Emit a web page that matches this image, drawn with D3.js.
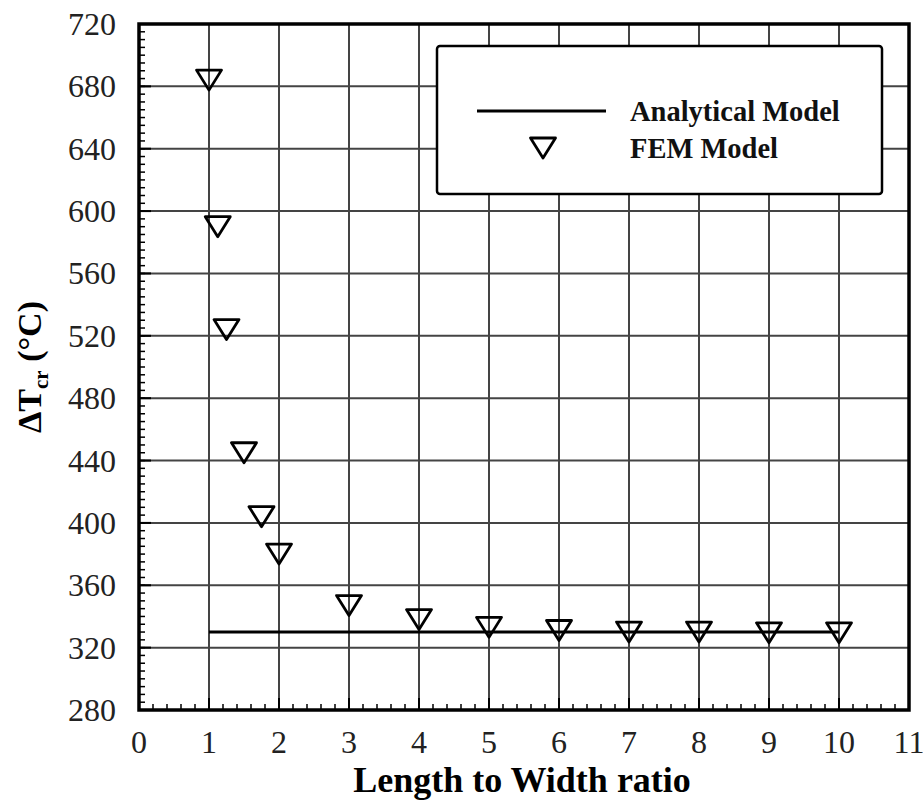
<!DOCTYPE html>
<html><head><meta charset="utf-8">
<script src="https://cdn.jsdelivr.net/npm/d3@7"></script>
<style>body{margin:0;background:#fff}svg{display:block}</style>
</head><body>
<svg id="c" width="923" height="802"></svg>
<script>
const xTicks = [0,1,2,3,4,5,6,7,8,9,10,11];
const yTicks = [280,320,360,400,440,480,520,560,600,640,680,720];
const femX = [1,1.125,1.25,1.5,1.75,2,3,4,5,6,7,8,9,10];
const femY = [684,590,524,445,404,380,347,338,333,331,330,330,329.5,329.5];
const anaX = [1,10];
const anaY = [330,330];
const legendLabels = ["Analytical Model","FEM Model"];

const svg = d3.select("#c");
const L=139,R=909,T=24,B=710;
const x = d3.scaleLinear().domain([0,11]).range([L,R]);
const y = d3.scaleLinear().domain([280,720]).range([B,T]);
const font = "'Liberation Serif','Times New Roman',serif";

// grid
const g = svg.append("g");
g.selectAll("line.vx").data(xTicks.slice(1,-1)).enter().append("line")
 .attr("x1",d=>x(d)).attr("x2",d=>x(d)).attr("y1",T).attr("y2",B)
 .attr("stroke","#444").attr("stroke-width",2);
g.selectAll("line.hy").data(yTicks.slice(1,-1)).enter().append("line")
 .attr("y1",d=>y(d)).attr("y2",d=>y(d)).attr("x1",L).attr("x2",R)
 .attr("stroke","#444").attr("stroke-width",2);

// minor ticks
const xMinor = d3.range(0,11.001,0.2);
const yMinor = d3.range(280,720.001,5);
g.selectAll("line.mx").data(xMinor).enter().append("line")
 .attr("x1",d=>x(d)).attr("x2",d=>x(d)).attr("y1",B).attr("y2",B-6)
 .attr("stroke","#000").attr("stroke-width",1.5);
g.selectAll("line.my").data(yMinor).enter().append("line")
 .attr("y1",d=>y(d)).attr("y2",d=>y(d)).attr("x1",L).attr("x2",L+6)
 .attr("stroke","#000").attr("stroke-width",1.5);
g.selectAll("line.Mx").data(xTicks).enter().append("line")
 .attr("x1",d=>x(d)).attr("x2",d=>x(d)).attr("y1",B).attr("y2",B-12)
 .attr("stroke","#000").attr("stroke-width",2);
g.selectAll("line.My").data(yTicks).enter().append("line")
 .attr("y1",d=>y(d)).attr("y2",d=>y(d)).attr("x1",L).attr("x2",L+12)
 .attr("stroke","#000").attr("stroke-width",2);

// frame
svg.append("rect").attr("x",L).attr("y",T).attr("width",R-L).attr("height",B-T)
 .attr("fill","none").attr("stroke","#000").attr("stroke-width",3.5);

// tick labels
svg.selectAll("text.xt").data(xTicks).enter().append("text")
 .attr("x",d=>x(d)).attr("y",753).attr("text-anchor","middle")
 .attr("font-family",font).attr("font-size",32).attr("fill","#222").text(d=>d);
svg.selectAll("text.yt").data(yTicks).enter().append("text")
 .attr("x",116).attr("y",d=>y(d)+11).attr("text-anchor","end")
 .attr("font-family",font).attr("font-size",32).attr("fill","#222").text(d=>d);

// axis titles
svg.append("text").attr("x",(L+R)/2 - 2).attr("y",792).attr("text-anchor","middle")
 .attr("font-family",font).attr("font-size",36).attr("font-weight","bold").text("Length to Width ratio");
const yt = svg.append("text").attr("transform",`translate(41,${(T+B)/2}) rotate(-90)`)
 .attr("text-anchor","middle").attr("font-family",font).attr("font-size",34).attr("font-weight","bold");
yt.append("tspan").text("ΔT");
yt.append("tspan").attr("font-size",21).attr("dy",7).text("cr");
yt.append("tspan").attr("dy",-7).text(" (°C)");

// analytical line
const line = d3.line().x(d=>x(d[0])).y(d=>y(d[1]));
svg.append("path").datum(anaX.map((v,i)=>[v,anaY[i]])).attr("d",line)
 .attr("fill","none").attr("stroke","#000").attr("stroke-width",3);

// markers
function tri(cx,cy){const w=12.5,h=10;return `M${cx-w},${cy-h}L${cx+w},${cy-h}L${cx},${cy+h}Z`;}
svg.selectAll("path.m").data(femX.map((v,i)=>[v,femY[i]])).enter().append("path")
 .attr("d",d=>tri(x(d[0]),y(d[1]))).attr("fill","none").attr("stroke","#000").attr("stroke-width",2.8)
 .attr("stroke-linejoin","round");

// legend
svg.append("rect").attr("x",437).attr("y",46).attr("width",445).attr("height",148).attr("rx",3)
 .attr("fill","#fff").attr("stroke","#000").attr("stroke-width",2.5);
svg.append("line").attr("x1",477).attr("x2",606).attr("y1",111).attr("y2",111)
 .attr("stroke","#000").attr("stroke-width",3);
svg.append("path").attr("d",tri(543,148)).attr("fill","none").attr("stroke","#000").attr("stroke-width",2.8).attr("stroke-linejoin","round");
svg.selectAll("text.lg").data(legendLabels).enter().append("text")
 .attr("x",630).attr("y",(d,i)=>[121,158][i]).attr("font-family",font).attr("font-size",28.5)
 .attr("font-weight","bold").attr("fill","#111").text(d=>d);
</script>
</body></html>
